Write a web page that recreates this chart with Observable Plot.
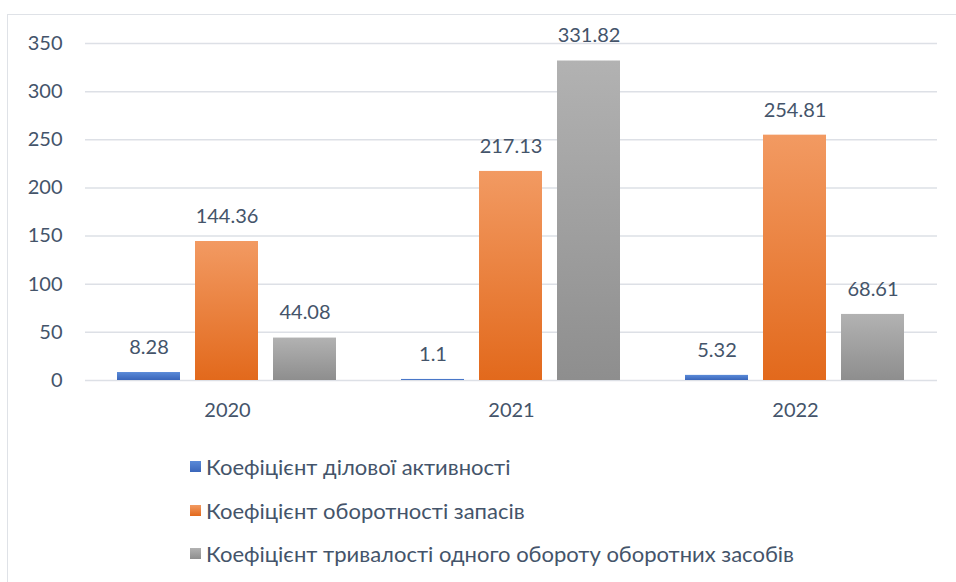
<!DOCTYPE html>
<html>
<head>
<meta charset="utf-8">
<script src="https://cdn.jsdelivr.net/npm/d3@7"></script>
<script src="https://cdn.jsdelivr.net/npm/@observablehq/plot@0.6"></script>
<style>
  html, body { margin: 0; padding: 0; background: #fff; }
  body { width: 956px; height: 582px; position: relative; overflow: hidden; font-family: Lato, "Open Sans", sans-serif; }
  #frame { position: absolute; left: 7px; top: 14px; width: 960px; height: 600px; border: 1.5px solid #dfe2e7; box-sizing: border-box; }
  #chart { position: absolute; left: 0; top: 0; }
  #legend { position: absolute; left: 190px; top: 0; }
  .item { position: absolute; left: 0; white-space: nowrap; font-size: 22px; color: #44546a; display: flex; align-items: center; }
  .sw { width: 11px; height: 11px; margin-right: 5px; flex: none; }
</style>
</head>
<body>
<div id="frame"></div>
<div id="chart"></div>
<div id="legend"></div>
<script>
const years = ["2020", "2021", "2022"];
const seriesNames = [
  "Коефіцієнт ділової активності",
  "Коефіцієнт оборотності запасів",
  "Коефіцієнт тривалості одного обороту оборотних засобів"
];
const activity = [8.28, 1.1, 5.32];
const inventory = [144.36, 217.13, 254.81];
const duration = [44.08, 331.82, 68.61];
const yTicks = [0, 50, 100, 150, 200, 250, 300, 350];

const seriesValues = [activity, inventory, duration];
const gradIds = ["gBlue", "gOrange", "gGray"];
const legendColors = [
  "linear-gradient(#5a8ad8, #3a66ba)",
  "linear-gradient(#f29a62, #e2691c)",
  "linear-gradient(#b2b2b2, #8e8e8e)"
];

const data = [];
years.forEach((yr, i) => {
  seriesNames.forEach((s, j) => {
    data.push({ year: yr, series: s, value: seriesValues[j][i], label: String(seriesValues[j][i]), grad: `url(#${gradIds[j]})` });
  });
});

const defsMark = () => {
  const svgNS = "http://www.w3.org/2000/svg";
  const defs = document.createElementNS(svgNS, "defs");
  const specs = [
    ["gBlue", "#5a8ad8", "#3a66ba"],
    ["gOrange", "#f29a62", "#e2691c"],
    ["gGray", "#b2b2b2", "#8e8e8e"]
  ];
  for (const [id, c1, c2] of specs) {
    const g = document.createElementNS(svgNS, "linearGradient");
    g.setAttribute("id", id);
    g.setAttribute("x1", "0"); g.setAttribute("y1", "0");
    g.setAttribute("x2", "0"); g.setAttribute("y2", "1");
    const s1 = document.createElementNS(svgNS, "stop");
    s1.setAttribute("offset", "0"); s1.setAttribute("stop-color", c1);
    const s2 = document.createElementNS(svgNS, "stop");
    s2.setAttribute("offset", "1"); s2.setAttribute("stop-color", c2);
    g.appendChild(s1); g.appendChild(s2);
    defs.appendChild(g);
  }
  return defs;
};

const chart = Plot.plot({
  width: 956,
  height: 430,
  marginLeft: 84,
  marginRight: 18,
  marginTop: 43,
  marginBottom: 50,
  style: { fontFamily: "Lato, 'Open Sans', sans-serif", fontSize: "20px", color: "#44546a", background: "transparent" },
  fx: { domain: years, paddingInner: 0, paddingOuter: 0, label: null },
  x: { domain: seriesNames, paddingInner: 0.19, paddingOuter: 0.4, axis: null },
  y: { domain: [0, 350], ticks: yTicks, label: null },
  marks: [
    defsMark,
    Plot.gridY(yTicks, { stroke: "#dde0e6", strokeOpacity: 1, strokeWidth: 1.5 }),
    Plot.axisY({ ticks: yTicks, tickSize: 0, tickPadding: 23, label: null, fontSize: 20, fill: "#44546a" }),
    Plot.axisFx({ anchor: "bottom", tickSize: 0, tickPadding: 22, label: null, fontSize: 20, fill: "#44546a" }),
    Plot.barY(data, { fx: "year", x: "series", y: "value", fill: "grad" }),
    Plot.text(data, { fx: "year", x: "series", y: "value", text: "label", dy: -25, fontSize: 20, fill: "#44546a" })
  ]
});
document.getElementById("chart").appendChild(chart);

const legend = document.getElementById("legend");
const rowsY = [466, 510, 553];
seriesNames.forEach((s, j) => {
  const item = document.createElement("div");
  item.className = "item";
  item.style.top = (rowsY[j] - 14) + "px";
  item.style.height = "28px";
  const sw = document.createElement("span");
  sw.className = "sw";
  sw.style.background = legendColors[j];
  const t = document.createElement("span");
  t.textContent = s;
  item.appendChild(sw);
  item.appendChild(t);
  legend.appendChild(item);
});
</script>
</body>
</html>
